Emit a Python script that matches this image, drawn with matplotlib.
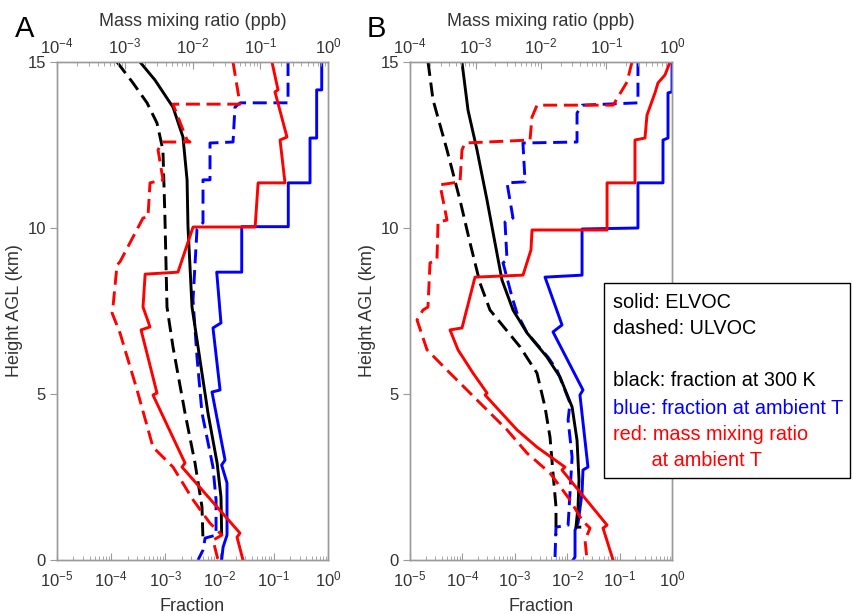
import matplotlib
matplotlib.use("Agg")
import matplotlib.pyplot as plt
import matplotlib.ticker as mticker
from matplotlib.patches import Rectangle

plt.rcParams['font.family'] = ['Liberation Sans', 'DejaVu Sans']
plt.rcParams['mathtext.fontset'] = 'custom'
plt.rcParams['mathtext.rm'] = 'Liberation Sans'
plt.rcParams['mathtext.it'] = 'Liberation Sans:italic'
plt.rcParams['mathtext.default'] = 'regular'

# ---------------- Panel A ----------------
a_black_solid_h = [15.0, 14.46, 13.64, 12.74, 11.45, 10.04, 7.62, 6.42, 4.43, 2.92, 1.90, 0.81]
a_black_solid_x = [3.4e-4, 6.4e-4, 1.38e-3, 2.11e-3, 2.51e-3, 2.61e-3, 3.1e-3, 4.0e-3, 6.1e-3, 9.0e-3, 1.06e-2, 1.09e-2]

a_black_dash_h = [15.0, 14.37, 13.77, 13.16, 12.35, 10.33, 7.62, 6.42, 4.43, 2.92, 1.60, 0.60]
a_black_dash_x = [1.28e-4, 2.52e-4, 4.58e-4, 7.0e-4, 9.0e-4, 9.8e-4, 1.07e-3, 1.38e-3, 2.3e-3, 3.52e-3, 4.73e-3, 4.94e-3]

a_blue_solid_h = [15.0, 14.16, 14.16, 12.71, 12.71, 11.36, 11.36, 10.04, 10.04, 8.67, 8.67, 7.14, 6.99, 5.12, 5.06, 3.01, 2.86, 2.32, 0.75, 0.39, 0.0]
a_blue_solid_x = [0.766, 0.766, 0.618, 0.618, 0.466, 0.466, 0.185, 0.185, 0.0256, 0.0256, 8.85e-3, 1.06e-2, 7.55e-3, 1.02e-2, 7.24e-3, 1.26e-2, 1.09e-2, 1.37e-2, 1.37e-2, 1.16e-2, 1.09e-2]

a_blue_dash_h = [15.0, 13.77, 13.77, 13.64, 12.59, 12.56, 11.45, 11.45, 10.16, 9.97, 7.83, 6.11, 4.43, 2.80, 1.81, 0.75, 0.66, 0.30, 0.0]
a_blue_dash_x = [0.183, 0.183, 0.024, 0.0192, 0.0177, 6.65e-3, 6.65e-3, 4.94e-3, 4.94e-3, 3.83e-3, 3.23e-3, 3.83e-3, 4.73e-3, 7.55e-3, 8.6e-3, 8.6e-3, 5.4e-3, 4.94e-3, 4.0e-3]

a_red_solid_h = [15.0, 14.16, 14.10, 12.74, 12.65, 11.36, 11.36, 10.03, 10.03, 8.67, 8.61, 7.62, 7.02, 6.93, 5.03, 4.97, 2.92, 2.80, 0.81, 0.69, 0.0]
a_red_solid_m = [0.149, 0.183, 0.165, 0.248, 0.196, 0.232, 0.093, 0.084, 0.0102, 0.0061, 0.0020, 0.00186, 0.00236, 0.00174, 0.00299, 0.00261, 0.00775, 0.0070, 0.0502, 0.0454, 0.0556]

a_red_dash_h = [15.0, 13.73, 13.73, 12.65, 12.59, 12.59, 12.35, 11.45, 11.36, 10.33, 10.30, 8.98, 8.89, 7.62, 7.44, 6.84, 5.12, 3.40, 2.80, 1.81, 1.11, 0.75, 0.60, 0.0]
a_red_dash_m = [0.0396, 0.0502, 0.00515, 0.00829, 0.00919, 0.00355, 0.0031, 0.00367, 0.00236, 0.0022, 0.00186, 0.00085, 0.00077, 0.00067, 0.00065, 0.00085, 0.00152, 0.00261, 0.00515, 0.0102, 0.0181, 0.0272, 0.0201, 0.0238]

# ---------------- Panel B ----------------
b_black_solid_h = [15.0, 13.55, 12.35, 10.84, 9.55, 8.43, 7.53, 6.84, 6.11, 5.51, 4.61, 3.61, 2.41, 1.60, 0.99, 0.99]
b_black_solid_x = [9.8e-5, 1.28e-4, 1.9e-4, 2.95e-4, 4.19e-4, 5.7e-4, 9.24e-4, 1.71e-3, 4.12e-3, 7.29e-3, 1.24e-2, 1.54e-2, 1.68e-2, 1.61e-2, 1.47e-2, 1.74e-2]

b_black_dash_h = [15.0, 13.86, 12.35, 10.84, 9.55, 8.34, 7.53, 6.42, 5.63, 4.61, 3.70, 2.62, 1.60, 0.75]
b_black_dash_x = [2.21e-5, 2.75e-5, 5.08e-5, 9.0e-5, 1.40e-4, 2.17e-4, 3.36e-4, 1.26e-3, 2.65e-3, 3.77e-3, 4.70e-3, 5.36e-3, 6.11e-3, 6.11e-3]

b_blue_solid_h = [15.0, 14.10, 14.07, 12.71, 12.65, 11.36, 11.36, 10.0, 9.97, 8.58, 8.52, 7.08, 6.87, 5.12, 4.97, 2.80, 2.71, 2.02, 1.11, 0.90, 0.09, 0.0]
b_blue_solid_x = [1.0, 1.0, 0.839, 0.839, 0.673, 0.673, 0.224, 0.224, 0.0192, 0.0192, 3.77e-3, 7.96e-3, 5.36e-3, 2.0e-2, 1.75e-2, 2.49e-2, 2.0e-2, 1.92e-2, 1.61e-2, 1.41e-2, 1.41e-2, 1.29e-2]

b_blue_dash_h = [15.0, 13.77, 13.70, 13.46, 12.59, 12.56, 11.39, 11.36, 10.30, 10.18, 9.04, 8.95, 7.92, 7.44, 6.84, 6.11, 5.72, 4.73, 4.22, 3.10, 2.02, 1.05, 0.99, 0.06, 0.0]
b_blue_dash_x = [0.224, 0.224, 0.0192, 1.54e-2, 1.54e-2, 1.43e-3, 1.57e-3, 7.1e-4, 9.24e-4, 6.5e-4, 7.1e-4, 5.96e-4, 8.85e-4, 1.10e-3, 1.71e-3, 4.3e-3, 6.39e-3, 1.13e-2, 1.04e-2, 1.24e-2, 1.13e-2, 1.04e-2, 6.11e-3, 5.85e-3, 6.11e-3]

b_red_solid_h = [15.0, 14.61, 14.37, 14.07, 13.40, 12.71, 12.65, 11.36, 11.36, 9.94, 9.94, 9.34, 8.58, 8.52, 6.99, 6.93, 6.33, 5.63, 5.03, 4.97, 3.92, 3.40, 2.80, 2.71, 1.05, 0.96, 0.0]
b_red_solid_m = [0.931, 0.782, 0.611, 0.550, 0.415, 0.387, 0.272, 0.272, 0.102, 0.102, 7.29e-3, 7.03e-3, 5.31e-3, 9.83e-4, 6.22e-4, 4.08e-4, 5.41e-4, 9.16e-4, 1.50e-3, 1.40e-3, 4.30e-3, 8.69e-3, 2.32e-2, 2.09e-2, 0.102, 8.85e-2, 0.126]

b_red_dash_h = [15.0, 14.40, 13.70, 13.70, 13.34, 12.65, 12.56, 12.35, 11.39, 11.30, 10.24, 10.18, 9.04, 8.95, 7.62, 7.53, 7.23, 6.33, 5.72, 5.03, 3.92, 3.22, 2.62, 1.81, 1.20, 0.96, 0.60, 0.0]
b_red_dash_m = [0.245, 0.206, 0.126, 8.69e-3, 7.29e-3, 6.79e-3, 6.91e-4, 6.22e-4, 5.80e-4, 2.87e-4, 3.67e-4, 2.68e-4, 2.58e-4, 2.02e-4, 1.88e-4, 1.58e-4, 1.28e-4, 1.82e-4, 3.67e-4, 8.24e-4, 3.03e-3, 6.11e-3, 1.37e-2, 2.77e-2, 4.23e-2, 5.60e-2, 4.70e-2, 5.04e-2]

y_ticks = [0, 5, 10, 15]
legend_lines = [("solid: ELVOC", "black"), ("dashed: ULVOC", "black"), ("", "black"),
                ("black: fraction at 300 K", "black"), ("blue: fraction at ambient T", "#0000ff"),
                ("red: mass mixing ratio", "#ff0000"), ("       at ambient T", "#ff0000")]

W, H = 854, 614
fig = plt.figure(figsize=(W / 100, H / 100), dpi=100)

RED = '#ff0000'
BLUE = '#0000ff'
DASH = (0, (4.8, 2.3))
LW = 2.1
SPINE = '#9a9a9a'
TXT = '#333333'
TICKFS = 12
LABFS = 13


def setup(rect, data, panel_letter, letter_x):
    ax = fig.add_axes(rect)
    ax.set_xscale('log')
    ax.set_xlim(1e-5, 1)
    ax.set_ylim(0, 15)
    ax.set_yticks(y_ticks)
    axt = ax.twiny()
    axt.set_xscale('log')
    axt.set_xlim(1e-4, 1)

    (bs_x, bs_h, bd_x, bd_h, us_x, us_h, ud_x, ud_h, rs_m, rs_h, rd_m, rd_h) = data
    ax.plot(bs_x, bs_h, color='black', lw=LW, zorder=3)
    ax.plot(bd_x, bd_h, color='black', lw=LW, ls=DASH, zorder=3)
    ax.plot(us_x, us_h, color=BLUE, lw=LW, zorder=2)
    ax.plot(ud_x, ud_h, color=BLUE, lw=LW, ls=DASH, zorder=2)
    axt.plot(rs_m, rs_h, color=RED, lw=LW)
    axt.plot(rd_m, rd_h, color=RED, lw=LW, ls=DASH)
    axt.set_ylim(0, 15)

    for a in (ax, axt):
        for s in a.spines.values():
            s.set_color(SPINE)
            s.set_linewidth(1.0)
    ax.tick_params(axis='x', which='both', direction='in', top=False, bottom=True,
                   colors=SPINE, labelcolor=TXT, labelsize=TICKFS, pad=7)
    ax.tick_params(axis='x', which='major', length=5)
    ax.tick_params(axis='x', which='minor', length=3)
    ax.tick_params(axis='y', direction='out', length=5, colors=SPINE, labelcolor=TXT,
                   labelsize=TICKFS, right=False, pad=3)
    axt.tick_params(axis='x', which='both', direction='in', top=True, bottom=False,
                    colors=SPINE, labelcolor=TXT, labelsize=TICKFS, pad=4)
    axt.tick_params(axis='x', which='major', length=5)
    axt.tick_params(axis='x', which='minor', length=3)
    ax.xaxis.set_major_locator(mticker.LogLocator(base=10, numticks=10))
    ax.xaxis.set_minor_locator(mticker.LogLocator(base=10, subs=range(2, 10), numticks=20))
    axt.xaxis.set_major_locator(mticker.LogLocator(base=10, numticks=10))
    axt.xaxis.set_minor_locator(mticker.LogLocator(base=10, subs=range(2, 10), numticks=20))
    ax.xaxis.set_minor_formatter(mticker.NullFormatter())
    axt.xaxis.set_minor_formatter(mticker.NullFormatter())

    ax.set_xlabel('Fraction', fontsize=LABFS, color=TXT)
    ax.xaxis.set_label_coords(0.5, -0.076)
    ax.set_ylabel('Height AGL (km)', fontsize=LABFS, color=TXT)
    axt.set_xlabel('Mass mixing ratio (ppb)', fontsize=LABFS, color=TXT)
    fig.text(letter_x, 1 - 29 / H, panel_letter, fontsize=21, ha='center', va='center')
    return ax, axt


axA, axAt = setup([57 / W, 1 - 560 / H, 271 / W, 498 / H],
                  (a_black_solid_x, a_black_solid_h, a_black_dash_x, a_black_dash_h,
                   a_blue_solid_x, a_blue_solid_h, a_blue_dash_x, a_blue_dash_h,
                   a_red_solid_m, a_red_solid_h, a_red_dash_m, a_red_dash_h), 'A', 25 / W)
axA.yaxis.set_label_coords(-0.125, 0.5)
axAt.xaxis.set_label_coords(0.5, 1.072)

axB, axBt = setup([410 / W, 1 - 560 / H, 262 / W, 498 / H],
                  (b_black_solid_x, b_black_solid_h, b_black_dash_x, b_black_dash_h,
                   b_blue_solid_x, b_blue_solid_h, b_blue_dash_x, b_blue_dash_h,
                   b_red_solid_m, b_red_solid_h, b_red_dash_m, b_red_dash_h), 'B', 376 / W)
axB.yaxis.set_label_coords(-0.13, 0.5)
axBt.xaxis.set_label_coords(0.5, 1.072)

# legend box
box = Rectangle((604 / W, 1 - 478 / H), 246 / W, 195 / H, transform=fig.transFigure,
                facecolor='white', edgecolor='black', linewidth=1.0, zorder=5)
fig.add_artist(box)
line_y = [302, 328, 355, 381, 408, 435, 460]
for (txt, col), yy in zip(legend_lines, line_y):
    if txt:
        fig.text(613 / W, 1 - yy / H, txt, color=col, fontsize=14.3, ha='left',
                 va='center', zorder=6)

fig.savefig('out.png', dpi=100)
